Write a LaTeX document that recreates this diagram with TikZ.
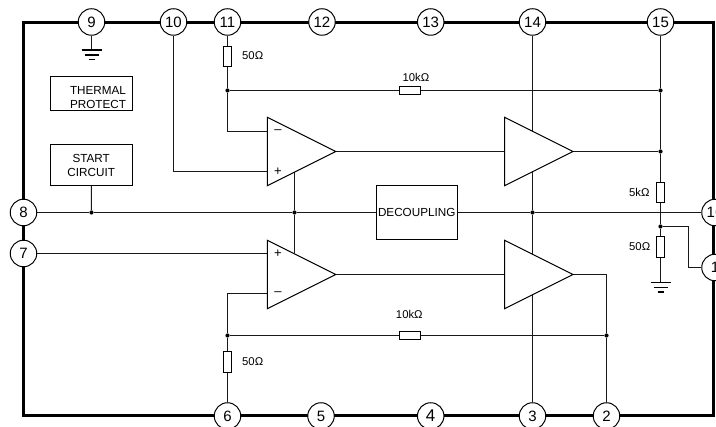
\documentclass[tikz,border=0pt]{standalone}
\usepackage{fontspec}
\setmainfont{Liberation Sans}
\usetikzlibrary{shapes.geometric,backgrounds}

\tikzset{
  pin/.style={circle,draw,fill=white,line width=1pt,minimum size=26.5pt,inner sep=0pt,font=\fontsize{15}{15}\selectfont},
  wire/.style={line width=1pt,black!90},
  dot/.style={circle,fill=black,minimum size=4.2pt,inner sep=0pt},
  res/.style={rectangle,draw,fill=white,line width=1pt,inner sep=0pt},
  amp/.style={isosceles triangle,isosceles triangle stretches,draw,fill=white,line width=1pt,
    minimum width=68.4pt,minimum height=68.4pt,inner sep=0pt,outer sep=0pt,anchor=apex},
  lbl/.style={inner sep=0pt,font=\fontsize{11.3}{11.3}\selectfont},
  sign/.style={inner sep=0pt,font=\fontsize{13}{13}\selectfont},
  blockbox/.style={rectangle,draw,fill=white,line width=1pt,inner sep=0pt,align=center,font=\fontsize{11.7}{14}\selectfont},
}

\begin{document}
\begin{tikzpicture}[x=1pt,y=-1pt]
  \useasboundingbox (0,0) rectangle (716,427);
  % pins, top row
  \node[pin] (p9)  at (91.5,22)    {9};
  \node[pin] (p10) at (173.5,22)   {10};
  \node[pin] (p11) at (227.5,22)   {11};
  \node[pin] (p12) at (322,22)   {12};
  \node[pin] (p13) at (430.7,22) {13};
  \node[pin] (p14) at (532.5,22)   {14};
  \node[pin] (p15) at (660.5,22) {15};
  % pins, sides
  \node[pin] (p8)  at (23.5,212.5)   {8};
  \node[pin] (p7)  at (23.5,253.5) {7};
  \node[pin] (p16) at (715,212.5)    {16};
  \node[pin] (p1)  at (715,267.5)    {1};
  % pins, bottom row
  \node[pin] (p6) at (227.5,416)   {6};
  \node[pin] (p5) at (321,416)   {5};
  \node[pin,font=\fontsize{17}{17}\selectfont] (p4) at (430.7,416) {4};
  \node[pin] (p3) at (532.5,416)   {3};
  \node[pin] (p2) at (606.5,416) {2};
  % blocks
  \node[blockbox,minimum width=81.7pt,minimum height=34.3pt] (thermal) at (91.2,93.8) {};
  \node[inner sep=0pt,align=center,font=\fontsize{11.7}{14}\selectfont] (thermaltxt) at (98,97.7) {THERMAL\\PROTECT};
  \node[blockbox,minimum width=81.7pt,minimum height=41pt] (start) at (91.2,165.2) {START\\CIRCUIT};
  \node[blockbox,minimum width=81.3pt,minimum height=54.4pt] (decoup) at (416.7,212.5) {DECOUPLING};
  % amplifiers
  \node[amp] (op1)  at (335.7,151.5) {};
  \node[amp] (op2)  at (335.7,274.5)   {};
  \node[amp] (buf1) at (573,151.5)   {};
  \node[amp] (buf2) at (573,274.5)     {};
  \node[sign] (op1m) at (278,131.5)   {–};
  \node[sign] (op1p) at (278,171.5) {+};
  \node[sign] (op2p) at (278,253.5) {+};
  \node[sign] (op2m) at (278,293.5) {–};
  % resistors
  \node[res,minimum width=7.3pt,minimum height=20pt] (r11)  at (227.5,56.7)    {};
  \node[res,minimum width=7.3pt,minimum height=21pt] (r6)   at (227.5,362.5)   {};
  \node[res,minimum width=20.7pt,minimum height=7.3pt] (rtop) at (410.3,90.5) {};
  \node[res,minimum width=20.7pt,minimum height=7.3pt] (rbot) at (410.3,335.5)  {};
  \node[res,minimum width=7.3pt,minimum height=20pt] (r5k)  at (660.5,192.3) {};
  \node[res,minimum width=7.3pt,minimum height=20.7pt] (r50) at (660.5,246.7) {};
  \node[lbl] (l11)   at (252.7,56)  {50Ω};
  \node[lbl] (l6)    at (252.7,362) {50Ω};
  \node[lbl] (ltop)  at (416,77)    {10kΩ};
  \node[lbl] (lbot)  at (409.3,314) {10kΩ};
  \node[lbl] (l5k)   at (639.3,192) {5kΩ};
  \node[lbl] (l50)   at (639.7,246.7) {50Ω};
  % junctions
  \node[dot] (ja) at (91.5,212.5) {};
  \node[dot] (jb) at (294.5,212.5) {};
  \node[dot] (jc) at (532.5,212.5) {};
  \node[dot] (jd) at (227.5,90.5) {};
  \node[dot] (je) at (660.5,90.5) {};
  \node[dot] (jf) at (660.5,151.5) {};
  \node[dot] (jg) at (660.5,226.5) {};
  \node[dot] (jh) at (227.5,335.5) {};
  \node[dot] (ji) at (606.5,335.5) {};
  \coordinate (g9)  at (91.5,50);
  \coordinate (g50) at (660.5,282.5);
  \coordinate (in1m) at (267.3,131.5);
  \coordinate (in1p) at (267.3,171.5);
  \coordinate (in2p) at (267.3,253.5);
  \coordinate (in2m) at (267.3,293.5);
  \coordinate (bendup) at (688.5,226.5);
  \coordinate (out2) at (606.5,274.5);
  \begin{scope}[on background layer]
    \draw[line width=3pt,miter limit=10] (23.5,22.5) rectangle (713,416); % package outline
    \draw[wire] (p9) -- (g9);
    \draw[line width=1.5pt] (81.5,50) -- (101.5,50) (84.5,54.8) -- (98.5,54.8) (88.5,59.5) -- (94.5,59.5);
    \draw[wire] (p10) |- (in1p);
    \draw[wire] (p11) -- (r11) -- (jd) -- (in1m -| jd) -- (in1m);
    \draw[wire] (jd) -- (rtop) -- (je);
    \draw[wire] (p14) -- (jc) -- (p3);
    \draw[wire] (p15) -- (je) -- (jf) -- (r5k) -- (jg) -- (r50) -- (g50);
    \draw[line width=1.5pt] (650.5,282.7) -- (670.5,282.7) (653.5,287.4) -- (667.5,287.4) (657.5,292.2) -- (663.5,292.2);
    \draw[wire] (jg) -- (bendup) |- (p1);
    \draw[wire] (start) -- (ja);
    \draw[wire] (p8) -- (ja) -- (jb) -- (decoup) -- (jc) -- (p16);
    \draw[wire] (jb) -- (294.5,172) (jb) -- (294.5,253);
    \draw[wire] (p7) -- (in2p);
    \draw[wire] (op1.apex) -- (buf1.lower side);
    \draw[wire] (op2.apex) -- (buf2.lower side);
    \draw[wire] (buf1.apex) -- (jf);
    \draw[wire] (buf2.apex) -- (out2) -- (ji) -- (p2);
    \draw[wire] (jh) -- (rbot) -- (ji);
    \draw[wire] (p6) -- (r6) -- (jh) -- (in2m -| jh) -- (in2m);
  \end{scope}
\end{tikzpicture}
\end{document}
